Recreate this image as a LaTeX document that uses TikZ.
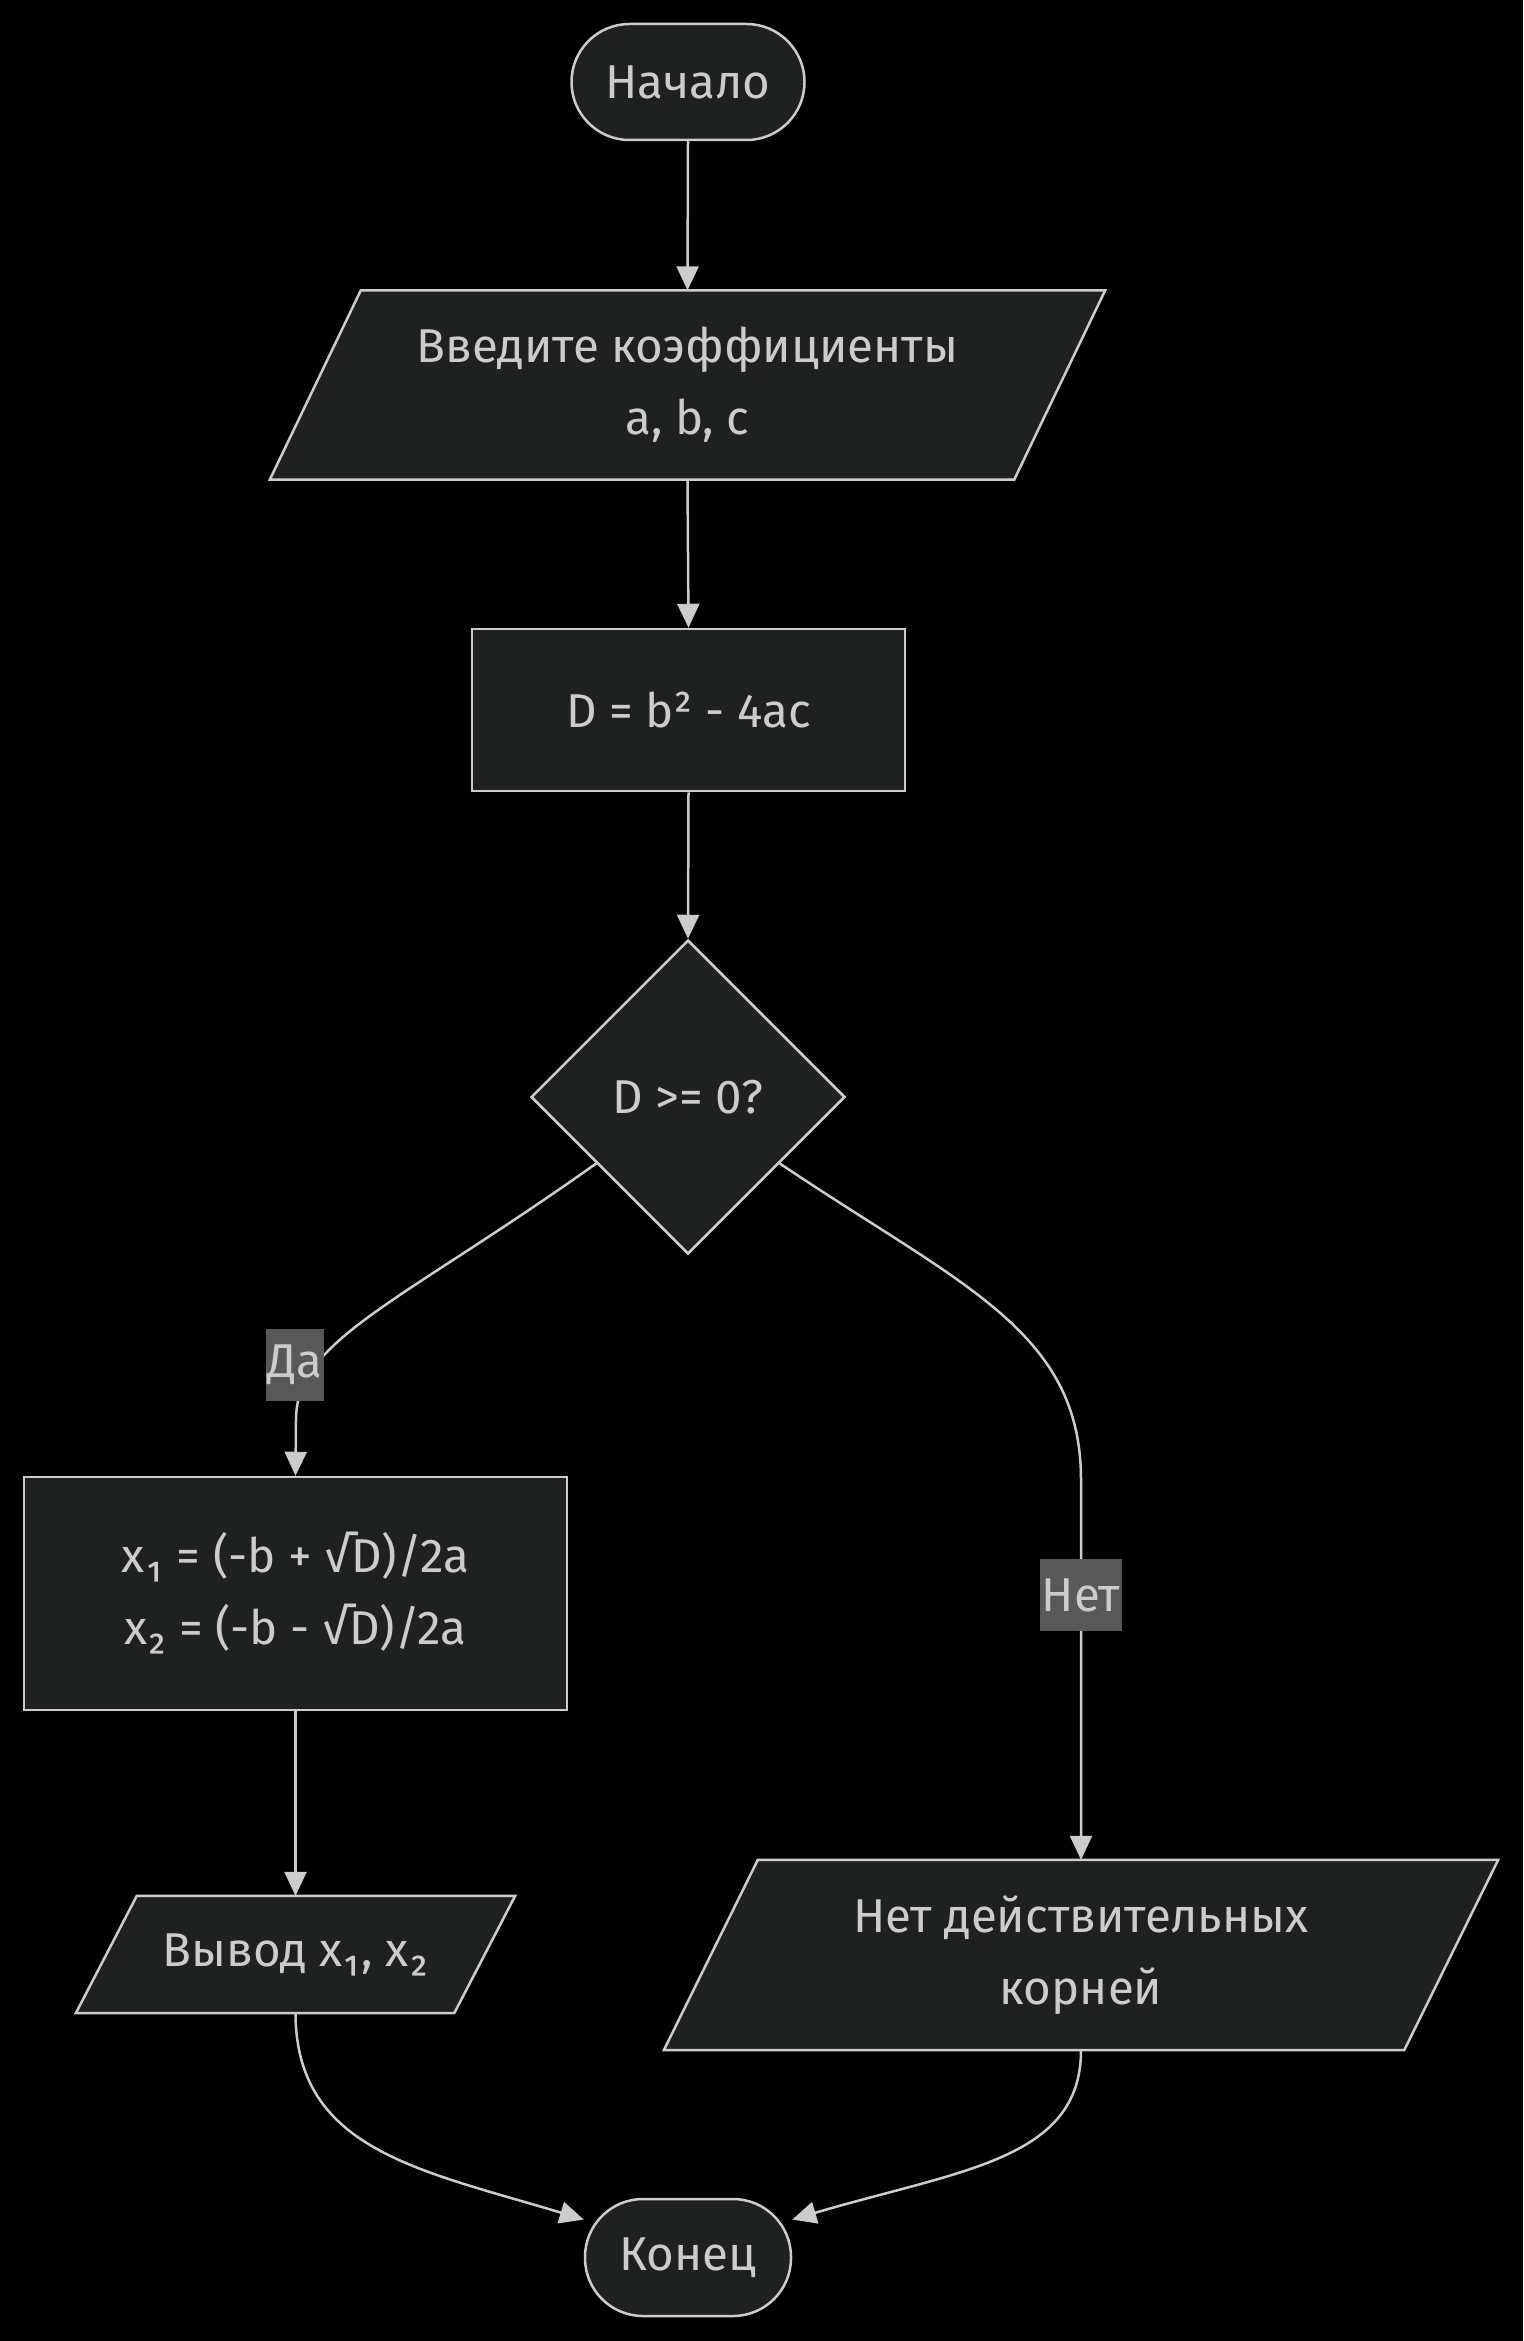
\documentclass[tikz,border=0pt]{standalone}
\usepackage{fontspec}
\setmainfont{Fira Sans}
\usetikzlibrary{shapes.geometric,arrows.meta,calc}
\definecolor{nodefill}{HTML}{1F2020}
\definecolor{strokec}{HTML}{CCCCCC}
\definecolor{lblbg}{HTML}{585858}
\begin{document}
\begin{tikzpicture}[x=1pt,y=-1pt,
  txt/.style={text=strokec, align=center, font=\fontsize{47.5}{72}\selectfont, inner sep=0pt},
  box/.style={txt, draw=strokec, fill=nodefill, line width=2.5pt},
  pill/.style={box, rounded corners=58pt},
  ghost/.style={inner sep=0pt},
  shapeline/.style={draw=strokec, fill=nodefill, line width=2.5pt},
  conn/.style={draw=strokec, line width=2.5pt, -{Triangle[length=24pt,width=22pt]}},
  lbl/.style={txt, fill=lblbg, inner sep=2pt, minimum height=72pt}
]
\fill[black] (0,0) rectangle (1523,2341);
\useasboundingbox (0,0) rectangle (1523,2341);

% start
\node[pill, minimum width=233pt, minimum height=116pt] (start) at (688,82) {Начало};

% input parallelogram
\node[ghost, minimum width=835pt, minimum height=189pt] (in) at (687.5,385) {};
\draw[shapeline] ([xshift=91pt]in.north west) -- (in.north east) -- ([xshift=-91pt]in.south east) -- (in.south west) -- cycle;
\node[txt] (inT) at (in) {Введите коэффициенты\\a, b, c};

% D box
\node[box, minimum width=433pt, minimum height=162pt] (d) at (688.5,710) {D = b² - 4ac};

% diamond
\node[box, diamond, minimum width=314pt, minimum height=314pt] (dia) at (688,1097) {D >= 0?};

% roots box
\node[box, minimum width=543pt, minimum height=233pt] (xb) at (295.5,1593.5) {x₁ = (-b + √D)/2a\\x₂ = (-b - √D)/2a};

% output parallelogram
\node[ghost, minimum width=439pt, minimum height=117pt] (out) at (295.5,1954.5) {};
\draw[shapeline] ([xshift=61pt]out.north west) -- (out.north east) -- ([xshift=-61pt]out.south east) -- (out.south west) -- cycle;
\node[txt] (outT) at (out) {Вывод x₁, x₂};

% no roots parallelogram
\node[ghost, minimum width=834pt, minimum height=190pt] (no) at (1081,1955) {};
\draw[shapeline] ([xshift=94pt]no.north west) -- (no.north east) -- ([xshift=-94pt]no.south east) -- (no.south west) -- cycle;
\node[txt] (noT) at (no) {Нет действительных\\корней};

% end
\node[pill, minimum width=206pt, minimum height=117pt] (end) at (688,2257.5) {Конец};

% connectors
\draw[conn] (start.south) -- (in.north);
\draw[conn] (in.south) -- (d.north);
\draw[conn] (d.south) -- (dia.north);
\coordinate (yesS) at ($(dia.west)!0.42!(dia.south)$);
\coordinate (noS) at ($(dia.east)!0.42!(dia.south)$);
\draw[conn] (yesS) .. controls (397,1305) and (296,1340) .. (296,1420) -- (xb.north);
\draw[conn] (noS) .. controls (960,1285) and (1081,1330) .. (1081,1480) -- (no.north);
\draw[conn] (xb.south) -- (out.north);
\draw[conn] (out.south) .. controls (296,2150) and (420,2170) .. (end.160);
\draw[conn] (no.south) .. controls (1081,2160) and (960,2170) .. (end.20);

% labels
\node[lbl, minimum width=56pt] (yesL) at (295,1365) {Да};
\node[lbl, minimum width=78pt] (noL) at (1081,1595) {Нет};
\end{tikzpicture}
\end{document}
